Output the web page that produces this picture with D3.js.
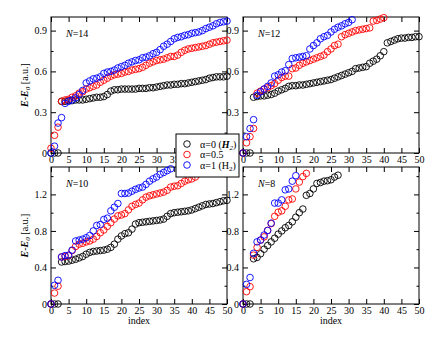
<!DOCTYPE html>
<html lang="en">
<head>
<meta charset="utf-8">
<title>Excitation energies vs index</title>
<script src="https://d3js.org/d3.v7.min.js"></script>
<style type="text/css">
body {
	margin: 0;
	background-color: white;
}
svg text {
	font-family: "Liberation Serif", "Times New Roman", serif;
	font-size: 10px;
	fill: #000;
}
.frame {
	fill: none;
	stroke: #000;
	stroke-width: 1px;
}
.tick line {
	stroke: #000;
	stroke-width: 1px;
}
circle {
	fill: none;
	stroke-width: 0.9px;
}
</style>
</head>
<body>
<script type="text/javascript">

// values, point i is at index i
// N=14
var n14_a0  = [0,0,0,0.38,0.38,0.385,0.385,0.39,0.39,0.39,0.395,0.40,0.405,0.41,0.41,0.415,0.43,0.455,0.465,0.465,0.47,0.47,0.47,0.47,0.47,0.475,0.475,0.475,0.48,0.48,0.485,0.49,0.495,0.50,0.50,0.505,0.505,0.51,0.51,0.515,0.52,0.525,0.53,0.535,0.54,0.55,0.555,0.56,0.56,0.56,0.565];
var n14_a05 = [0.035,0.13,0.19,0.38,0.39,0.395,0.41,0.42,0.44,0.45,0.47,0.48,0.49,0.50,0.52,0.535,0.55,0.565,0.575,0.58,0.585,0.595,0.60,0.61,0.615,0.62,0.63,0.645,0.66,0.67,0.68,0.685,0.69,0.70,0.71,0.71,0.72,0.74,0.755,0.765,0.77,0.775,0.78,0.785,0.79,0.80,0.81,0.815,0.82,0.825,0.83];
var n14_a1  = [0,0.05,0.22,0.26,0.365,0.38,0.39,0.405,0.43,0.46,0.515,0.53,0.545,0.55,0.56,0.585,0.595,0.60,0.61,0.625,0.635,0.645,0.66,0.67,0.68,0.685,0.70,0.705,0.715,0.73,0.74,0.76,0.785,0.80,0.82,0.84,0.85,0.855,0.865,0.87,0.88,0.885,0.89,0.90,0.915,0.925,0.935,0.95,0.96,0.965,0.97];
// N=12
var n12_a0  = [0,0,0,0.41,0.415,0.42,0.42,0.425,0.43,0.44,0.455,0.465,0.475,0.49,0.495,0.495,0.50,0.50,0.505,0.51,0.515,0.52,0.525,0.53,0.535,0.54,0.55,0.56,0.57,0.58,0.59,0.60,0.62,0.625,0.63,0.635,0.66,0.675,0.69,0.715,0.745,0.81,0.82,0.83,0.84,0.845,0.845,0.85,0.85,0.855,0.855];
var n12_a05 = [0,0.075,0.12,0.18,0.44,0.455,0.47,0.48,0.495,0.51,0.535,0.555,0.565,0.565,0.62,0.625,0.645,0.66,0.67,0.68,0.69,0.70,0.71,0.72,0.745,0.765,0.79,0.80,0.855,0.87,0.88,0.89,0.90,0.905,0.91,0.915,0.92,0.97,0.975,0.985,0.995];
var n12_a1  = [0,0.12,0.18,0.245,0.425,0.45,0.47,0.49,0.515,0.565,0.575,0.595,0.605,0.65,0.695,0.70,0.705,0.71,0.715,0.765,0.79,0.81,0.84,0.855,0.865,0.89,0.91,0.925,0.935,0.95,0.96,0.98];
// N=10
var n10_a0  = [0,0,0,0.46,0.465,0.47,0.48,0.49,0.505,0.52,0.545,0.565,0.575,0.58,0.585,0.59,0.60,0.62,0.655,0.71,0.745,0.77,0.78,0.82,0.875,0.89,0.895,0.90,0.905,0.91,0.915,0.92,0.93,0.96,0.99,1.0,1.005,1.01,1.015,1.02,1.03,1.045,1.06,1.075,1.09,1.095,1.10,1.11,1.12,1.13,1.135];
var n10_a05 = [0,0.12,0.195,0.515,0.52,0.53,0.585,0.63,0.655,0.665,0.68,0.69,0.71,0.74,0.78,0.81,0.85,0.89,0.93,0.965,0.975,0.99,1.03,1.07,1.09,1.105,1.14,1.17,1.185,1.195,1.205,1.215,1.225,1.245,1.28,1.29,1.295,1.32,1.345,1.36,1.37,1.39,1.425,1.44];
var n10_a1  = [0,0.205,0.26,0.515,0.53,0.535,0.59,0.69,0.70,0.71,0.725,0.75,0.80,0.86,0.87,0.925,0.94,1.02,1.06,1.10,1.21,1.21,1.215,1.235,1.255,1.27,1.28,1.31,1.345,1.37,1.39,1.42,1.44,1.46,1.48];
// N=8
var n8_a0   = [0,0,0,0.495,0.51,0.55,0.60,0.64,0.68,0.72,0.765,0.80,0.835,0.86,0.90,0.95,1.0,1.04,1.19,1.21,1.26,1.32,1.33,1.345,1.35,1.36,1.39,1.41];
var n8_a05  = [0,0.135,0.19,0.535,0.62,0.70,0.735,0.805,0.88,0.96,1.005,1.02,1.07,1.14,1.15,1.26,1.335,1.395,1.43];
var n8_a1   = [0,0.215,0.29,0.555,0.68,0.70,0.755,0.805,0.885,1.105,1.105,1.14,1.25,1.26,1.345,1.405];

var xTicks = [0,5,10,15,20,25,30,35,40,45,50];
var yTicksTop = [0,0.3,0.6,0.9];
var yTicksBottom = [0,0.4,0.8,1.2];
var legendLabels = ["α=0", "α=0.5", "α=1"];
var colors = ["#000000", "#ff0000", "#0000ff"];

//Width and height
var width = 436;
var height = 337;

var svg = d3.select("body").append("svg").attr("width", width).attr("height", height);

// panel boxes
var panels = [
	{ label: "14", x: 51, y: 17, w: 176, h: 136, ymax: 1.0, ticks: yTicksTop, minor: 0.15, series: [n14_a0, n14_a05, n14_a1], index: false },
	{ label: "12", x: 243, y: 17, w: 176, h: 136, ymax: 1.0, ticks: yTicksTop, minor: 0.15, series: [n12_a0, n12_a05, n12_a1], index: false },
	{ label: "10", x: 51, y: 167, w: 176, h: 137, ymax: 1.5, ticks: yTicksBottom, minor: 0.2, series: [n10_a0, n10_a05, n10_a1], index: true },
	{ label: "8", x: 243, y: 167, w: 176, h: 137, ymax: 1.5, ticks: yTicksBottom, minor: 0.2, series: [n8_a0, n8_a05, n8_a1], index: true }
];

var fmt = function(d) { return d === 0 ? "0" : d3.format(".1f")(d); };

panels.forEach(function(p, pi) {
	var x = d3.scaleLinear().domain([0, 50]).range([0, p.w]);
	var y = d3.scaleLinear().domain([0, p.ymax]).range([p.h, 0]);
	var minorVals = d3.range(0, p.ymax + 0.001, p.minor).filter(function(v) {
		return p.ticks.indexOf(+v.toFixed(2)) < 0;
	});

	var g = svg.append("g").attr("transform", "translate(" + p.x + "," + p.y + ")");

	// bottom axis with labels
	var xb = g.append("g").attr("transform", "translate(0," + p.h + ")")
		.call(d3.axisBottom(x).tickValues(xTicks).tickSizeInner(-5).tickSizeOuter(0).tickPadding(3));
	// the legend sits on the last labels of the first panel
	if (pi === 0) {
		xb.selectAll(".tick text").filter(function(d) { return d >= 40; }).remove();
	}
	// top ticks
	var xt = g.append("g")
		.call(d3.axisTop(x).tickValues(xTicks).tickSizeInner(-5).tickSizeOuter(0).tickFormat(""));
	// left axis with labels
	var yl = g.append("g")
		.call(d3.axisLeft(y).tickValues(p.ticks).tickSizeInner(-5).tickSizeOuter(0).tickPadding(4).tickFormat(fmt));
	var ylm = g.append("g")
		.call(d3.axisLeft(y).tickValues(minorVals).tickSizeInner(-2.5).tickSizeOuter(0).tickFormat(""));
	// right ticks
	var yr = g.append("g").attr("transform", "translate(" + p.w + ",0)")
		.call(d3.axisRight(y).tickValues(p.ticks).tickSizeInner(-5).tickSizeOuter(0).tickFormat(""));
	var yrm = g.append("g").attr("transform", "translate(" + p.w + ",0)")
		.call(d3.axisRight(y).tickValues(minorVals).tickSizeInner(-2.5).tickSizeOuter(0).tickFormat(""));

	g.selectAll(".domain").remove();
	g.selectAll(".tick text").attr("font-family", null).attr("font-size", null);

	g.append("rect").attr("class", "frame")
		.attr("x", 0).attr("y", 0).attr("width", p.w).attr("height", p.h);

	// data, black then red then blue
	p.series.forEach(function(s, si) {
		g.append("g").selectAll("circle")
			.data(s)
			.enter().append("circle")
			.attr("cx", function(d, i) { return x(i); })
			.attr("cy", function(d) { return y(d); })
			.attr("r", 3.3)
			.style("stroke", colors[si]);
	});

	// N label
	var nl = g.append("text").attr("x", 15).attr("y", 20);
	nl.append("tspan").attr("font-style", "italic").text("N");
	nl.append("tspan").text("=" + p.label);

	// y title on left panels
	if (p.x < 100) {
		var t = svg.append("text")
			.attr("transform", "translate(" + (p.x - 23) + "," + (p.y + p.h / 2) + ") rotate(-90)")
			.attr("text-anchor", "middle");
		t.append("tspan").attr("font-style", "italic").attr("font-weight", "bold").text("E");
		t.append("tspan").text("-");
		t.append("tspan").attr("font-style", "italic").attr("font-weight", "bold").text("E");
		t.append("tspan").attr("font-style", "italic").attr("font-size", "7px").attr("dy", 2).text("0");
		t.append("tspan").attr("dy", -2).text(" [a.u.]");
	}

	// x title on bottom panels
	if (p.index) {
		svg.append("text")
			.attr("x", p.x + p.w / 2)
			.attr("y", p.y + p.h + 20)
			.attr("text-anchor", "middle")
			.text("index");
	}
});

// legend
var lg = svg.append("g").attr("transform", "translate(176,134)");
lg.append("rect").attr("class", "frame")
	.attr("width", 63).attr("height", 43)
	.style("fill", "white");

legendLabels.forEach(function(l, i) {
	var cy = 10 + i * 10.5;
	lg.append("circle").attr("cx", 11).attr("cy", cy).attr("r", 3.3).style("stroke", colors[i]);
	var t = lg.append("text").attr("x", 24).attr("y", cy + 3.5);
	t.append("tspan").text(l);
	if (i === 0) {
		t.append("tspan").text(" (");
		t.append("tspan").attr("font-style", "italic").attr("font-weight", "bold").text("H");
		t.append("tspan").attr("font-style", "italic").attr("font-size", "7px").attr("dy", 2).text("2");
		t.append("tspan").attr("dy", -2).text(")");
	} else if (i === 2) {
		t.append("tspan").text(" (H");
		t.append("tspan").attr("font-size", "7px").attr("dy", 2).text("2");
		t.append("tspan").attr("dy", -2).text(")");
	}
});

</script>
</body>
</html>
